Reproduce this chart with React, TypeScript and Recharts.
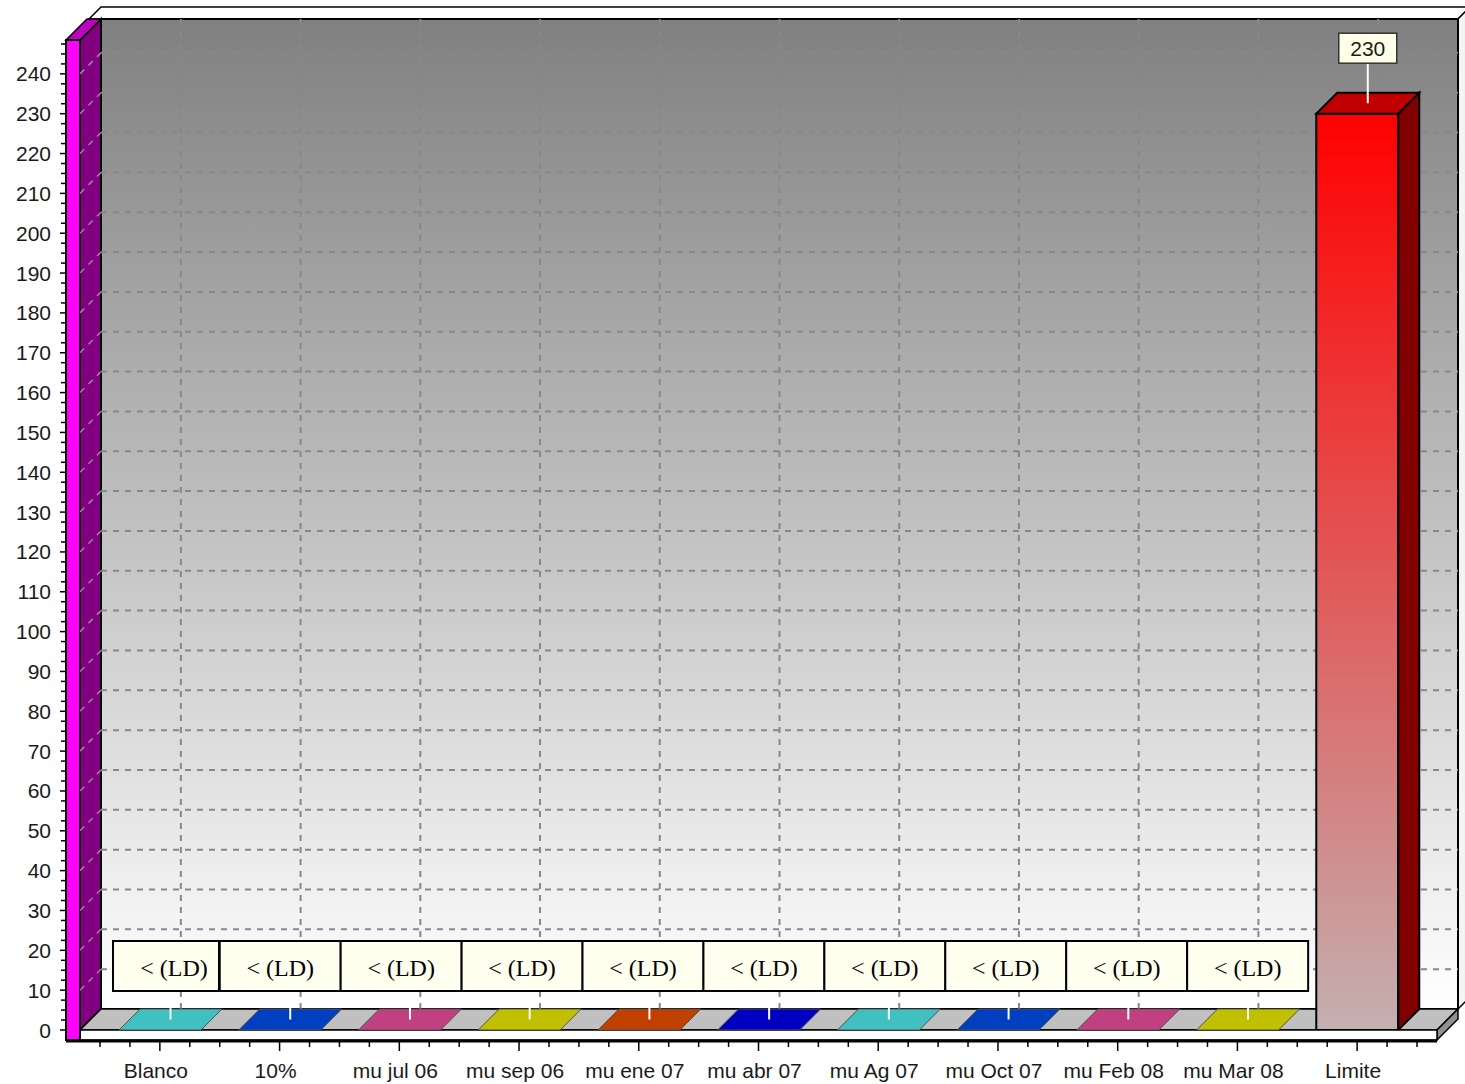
import React from 'react';
import { BarChart, Bar, XAxis, YAxis, CartesianGrid, ReferenceArea, LabelList } from 'recharts';

// data
const categories = ['Blanco', '10%', 'mu jul 06', 'mu sep 06', 'mu ene 07', 'mu abr 07', 'mu Ag 07', 'mu Oct 07', 'mu Feb 08', 'mu Mar 08', 'Limite'];
const values = [0, 0, 0, 0, 0, 0, 0, 0, 0, 0, 230];
const valueLabels = ['< (LD)', '< (LD)', '< (LD)', '< (LD)', '< (LD)', '< (LD)', '< (LD)', '< (LD)', '< (LD)', '< (LD)', '230'];
const yTicks = [0, 10, 20, 30, 40, 50, 60, 70, 80, 90, 100, 110, 120, 130, 140, 150, 160, 170, 180, 190, 200, 210, 220, 230, 240];
const Y_MAX = 248.5;

const data = categories.map((name, i) => ({ name, value: values[i] }));

// colours per bar: front, top, side faces
const FRONT = ['#50f0f0', '#0050f0', '#f050a0', '#f0f000', '#f05000', '#0000f0', '#50f0f0', '#0050f0', '#f050a0', '#f0f000', '#ff0000'];
const TOP = ['#40c0c0', '#0040c0', '#c04080', '#c0c000', '#c04000', '#0000c0', '#40c0c0', '#0040c0', '#c04080', '#c0c000', '#c00000'];
const SIDE = ['#308080', '#003080', '#803060', '#808000', '#803000', '#000080', '#308080', '#003080', '#803060', '#808000', '#800000'];

const W = 1465;
const H = 1084;
const MARGIN = { top: 40, right: 28, bottom: 14, left: 20 };
const Y_AXIS_W = 60;
const X_AXIS_H = 40;
const X_PAD = 20;
const DX = 21;
const DY = 21;
const PLOT_H = H - MARGIN.top - MARGIN.bottom - X_AXIS_H;
const PLOT_W = W - MARGIN.left - MARGIN.right - Y_AXIS_W;
const BAND = (PLOT_W - 2 * X_PAD) / categories.length;
const PX10 = (PLOT_H / Y_MAX) * 10;

const SANS = '"Liberation Sans", Arial, sans-serif';
const SERIF = '"Liberation Serif", "Times New Roman", serif';
const GRID = '#888888';

const pts = (arr: number[][]) => arr.map((p) => p.join(',')).join(' ');

// back wall, side wall, floor and front wall of the 3D box
const Walls = (props: any) => {
  const { x, y, width, height } = props;
  const left = x - X_PAD;
  const right = x + width + X_PAD;
  const top = y;
  const bottom = y + height;
  return (
    <g>
      <defs>
        <linearGradient id="wallGrad" x1="0" y1="0" x2="0" y2="1">
          <stop offset="0%" stopColor="#808080" />
          <stop offset="100%" stopColor="#ffffff" />
        </linearGradient>
      </defs>
      <polygon
        points={pts([[left + DX - 12, top - DY], [right + DX, top - DY], [right + DX + 12, top - DY - 12], [left + DX, top - DY - 12]])}
        fill="#fff" stroke="#000" strokeWidth={1.5}
      />
      <polygon
        points={pts([[right + DX, top - DY], [right + DX + 12, top - DY - 12], [right + DX + 12, bottom - DY - 12], [right + DX, bottom - DY]])}
        fill="#f4f4f4" stroke="#000" strokeWidth={1.5}
      />
      <rect x={left + DX} y={top - DY} width={right - left} height={bottom - top} fill="url(#wallGrad)" stroke="#000" strokeWidth={2} />
      <polygon
        points={pts([[left, top], [left + DX, top - DY], [left + DX, bottom - DY], [left, bottom]])}
        fill="#800080" stroke="#000" strokeWidth={2}
      />
      <polygon
        points={pts([[left, bottom], [right, bottom], [right + DX, bottom - DY], [left + DX, bottom - DY]])}
        fill="#c0c0c0" stroke="#000" strokeWidth={1.5}
      />
      <polygon
        points={pts([[right, bottom], [right + DX, bottom - DY], [right + DX, bottom - DY + 10], [right, bottom + 10]])}
        fill="#909090" stroke="#000" strokeWidth={1.5}
      />
      <rect x={left} y={bottom} width={right - left} height={10} fill="#fff" stroke="#000" strokeWidth={1.5} />
      <line x1={left - 14} y1={bottom + 11} x2={right} y2={bottom + 11} stroke="#000" strokeWidth={3} />
      <polygon
        points={pts([[left - 14, top], [left, top], [left + DX, top - DY], [left - 14 + DX, top - DY]])}
        fill="#c000c0" stroke="#000" strokeWidth={1.5}
      />
      <rect x={left - 14} y={top} width={14} height={bottom - top + 10} fill="#ff00ff" stroke="#000" strokeWidth={2} />
    </g>
  );
};

const gridHorizontal = (p: any) => {
  if (p.index === 0) return <g key={`h-${p.index}`} />;
  return (
    <g key={`h-${p.index}`}>
      <line x1={p.x1} y1={p.y1} x2={p.x1 + DX} y2={p.y1 - DY} stroke="#a080a0" strokeWidth={1.5} strokeDasharray="6 6" />
      <line x1={p.x1 + DX} y1={p.y1 - DY} x2={p.x2 + DX} y2={p.y2 - DY} stroke={GRID} strokeWidth={2} strokeDasharray="6 6" />
    </g>
  );
};

const gridVertical = (p: any) => (
  <line key={`v-${p.index}`} x1={p.x1 + DX} y1={p.y1 - DY} x2={p.x2 + DX} y2={p.y2 - DY} stroke={GRID} strokeWidth={2} strokeDasharray="6 6" />
);

const XTick = (props: any) => {
  const { x, y, payload, index } = props;
  const q = BAND / 4;
  const minors = [-2 * q, -q, q];
  if (index === categories.length - 1) minors.push(2 * q);
  return (
    <g>
      <line x1={x} y1={y + 12} x2={x} y2={y + 21} stroke="#000" strokeWidth={1.5} />
      {minors.map((d) => (
        <line key={d} x1={x + d} y1={y + 12} x2={x + d} y2={y + 17} stroke="#000" strokeWidth={1.5} />
      ))}
      <text x={x - 4} y={y + 40} textAnchor="middle" dominantBaseline="central" fontFamily={SANS} fontSize={21} fill="#1a1a1a">
        {payload.value}
      </text>
    </g>
  );
};

const YTick = (props: any) => {
  const { x, y, payload } = props;
  const q = PX10 / 4;
  return (
    <g>
      <line x1={x - 20} y1={y} x2={x - 14} y2={y} stroke="#000" strokeWidth={1.5} />
      {[1, 2, 3].map((k) => (
        <line key={k} x1={x - 19} y1={y - k * q} x2={x - 14} y2={y - k * q} stroke="#000" strokeWidth={1.5} />
      ))}
      <text x={x - 29} y={y} textAnchor="end" dominantBaseline="central" fontFamily={SANS} fontSize={21} fill="#1a1a1a">
        {payload.value}
      </text>
    </g>
  );
};

const Bar3D = (props: any) => {
  const { x, y, width, height, index } = props;
  const bottom = y + height;
  const solid = height > 0.5;
  return (
    <g>
      <defs>
        <linearGradient id={`barGrad-${index}`} x1="0" y1="0" x2="0" y2="1">
          <stop offset="0%" stopColor={FRONT[index]} />
          <stop offset="100%" stopColor="#c4b0b0" />
        </linearGradient>
      </defs>
      {solid && (
        <rect x={x} y={y} width={width} height={height} fill={`url(#barGrad-${index})`} stroke="#000" strokeWidth={2} />
      )}
      {solid && (
        <polygon
          points={pts([[x + width, y], [x + width + DX, y - DY], [x + width + DX, bottom - DY], [x + width, bottom]])}
          fill={SIDE[index]} stroke="#000" strokeWidth={2}
        />
      )}
      <polygon
        points={pts([[x, y], [x + width, y], [x + width + DX, y - DY], [x + DX, y - DY]])}
        fill={TOP[index]} stroke={solid ? '#000' : '#505050'} strokeWidth={solid ? 2 : 1}
      />
    </g>
  );
};

const renderLabel = (props: any) => {
  const vb = props.viewBox ?? props;
  const x = Number(vb.x);
  const y = Number(vb.y);
  const w = Number(vb.width);
  const cx = x + w / 2;
  const i = props.index ?? Math.round((cx - (MARGIN.left + Y_AXIS_W + X_PAD + BAND / 2)) / BAND);
  const ax = cx + DX / 2;
  const ay = y - DY / 2;
  if (values[i] === 0) {
    const left = i === 0 ? cx - 47 : cx - 60 + (i - 1) * 1.2;
    const right = i === 0 ? cx + 59 : left + 121;
    const tx = (left + right) / 2 + (i === 0 ? 8 : 0);
    return (
      <g key={`lb-${i}`}>
        <line x1={ax} y1={ay} x2={ax} y2={ay - 14} stroke="#fff" strokeWidth={2} />
        <rect x={left} y={y - 89} width={right - left} height={50} fill="#fffff0" stroke="#000" strokeWidth={2} />
        <text x={tx} y={y - 62} textAnchor="middle" dominantBaseline="central" fontFamily={SERIF} fontSize={24} fill="#000">
          {valueLabels[i]}
        </text>
      </g>
    );
  }
  return (
    <g key={`lb-${i}`}>
      <line x1={ax} y1={ay} x2={ax} y2={ay - 40} stroke="#fff" strokeWidth={2} />
      <rect x={ax - 29} y={ay - 70} width={58} height={30} fill="#ffffe8" stroke="#333" strokeWidth={1.5} />
      <text x={ax} y={ay - 55} textAnchor="middle" dominantBaseline="central" fontFamily={SANS} fontSize={21} fill="#1a1a1a">
        {valueLabels[i]}
      </text>
    </g>
  );
};

export default function App() {
  return (
    <div style={{ position: 'absolute', left: 0, top: 0, width: W, height: H, background: '#fff' }}>
      <BarChart width={W} height={H} data={data} margin={MARGIN}>
        <ReferenceArea y1={0} y2={Y_MAX} shape={Walls} zIndex={-300} ifOverflow="visible" />
        <CartesianGrid horizontal={gridHorizontal} vertical={gridVertical} syncWithTicks zIndex={-100} />
        <XAxis
          dataKey="name"
          type="category"
          interval={0}
          padding={{ left: X_PAD, right: X_PAD }}
          height={X_AXIS_H}
          axisLine={false}
          tickLine={false}
          tickSize={0}
          tickMargin={0}
          tick={<XTick />}
        />
        <YAxis
          type="number"
          domain={[0, Y_MAX]}
          ticks={yTicks}
          width={Y_AXIS_W}
          axisLine={false}
          tickLine={false}
          tickSize={0}
          tickMargin={0}
          tick={<YTick />}
          allowDataOverflow
        />
        <Bar dataKey="value" barSize={82} shape={Bar3D} isAnimationActive={false}>
          <LabelList dataKey="value" content={renderLabel} />
        </Bar>
      </BarChart>
    </div>
  );
}
